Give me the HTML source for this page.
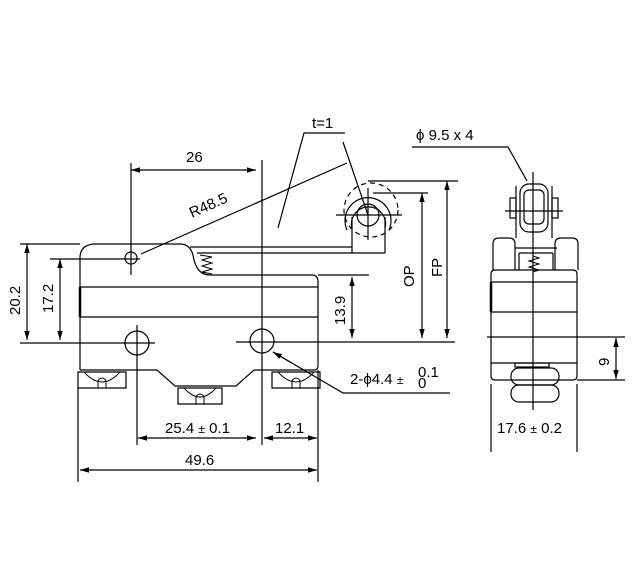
<!DOCTYPE html>
<html><head><meta charset="utf-8"><style>
html,body{margin:0;padding:0;background:#fff}
svg{display:block}
text{font-family:"Liberation Sans",sans-serif;font-size:15px;fill:#000}
</style></head><body>
<svg width="639" height="572" viewBox="0 0 639 572" xmlns="http://www.w3.org/2000/svg">
<defs>
<marker id="a" viewBox="0 0 10 10" refX="10" refY="5" markerWidth="9" markerHeight="9" markerUnits="userSpaceOnUse" orient="auto-start-reverse"><path d="M0,2 L10,5 L0,8 z" fill="#000"/></marker>
</defs>
<g fill="none" stroke="#000" stroke-width="1.2">
<path d="M80,370 L80,258 Q80,244 96,244 L180,244 Q190,244 193,255 Q196,275 210,275 L312,275 Q318,275 318,282 L318,366 Q318,370 314,370 L254,370 L236,386 L175,386 L157,370 L80,370"/>
<line x1="80" y1="287" x2="318" y2="287"/><line x1="80" y1="317" x2="318" y2="317"/>
<line x1="80" y1="287" x2="80" y2="317" stroke-width="2.5"/>
<line x1="190" y1="247" x2="352" y2="247"/><line x1="197" y1="253" x2="385" y2="253"/>
<path d="M352,253 L352,217 M385,253 L385,217"/>
<path d="M200,255 l12,2 l-10,3 l10,3 l-10,3 l10,3 l-10,3 l10,2" stroke-width="1"/>
<circle cx="368" cy="215" r="11"/>
<path d="M352,228 A17,17 0 1 1 385,228"/>
<path d="M347,230 A23,23 0 1 1 389,230"/>
<circle cx="371" cy="210" r="27" stroke-dasharray="5,4"/>
<line x1="336" y1="215" x2="402" y2="215"/><line x1="368" y1="188" x2="368" y2="240"/>
<circle cx="131" cy="258" r="6"/><circle cx="137" cy="343" r="12"/><circle cx="262" cy="341" r="12"/>
<path d="M78,372 h48 v16 h-48 z M178,388 h44 v16 h-44 z M272,372 h48 v16 h-48 z"/>
<path d="M84,372 Q102,392 120,372 M184,388 Q200,406 216,388 M278,372 Q296,392 314,372" stroke-width="1"/>
<path d="M98,388 v-6 a4,4 0 0 1 8,0 v6 M196,404 v-6 a4,4 0 0 1 8,0 v6 M292,388 v-6 a4,4 0 0 1 8,0 v6" stroke-width="1"/>
<line x1="131" y1="163" x2="131" y2="275"/><line x1="137" y1="325" x2="137" y2="445"/>
<line x1="262" y1="160" x2="262" y2="445"/><line x1="318" y1="370" x2="318" y2="482"/>
<line x1="78" y1="388" x2="78" y2="482"/>
<line x1="20" y1="244" x2="80" y2="244"/><line x1="20" y1="343" x2="155" y2="343"/>
<line x1="50" y1="259" x2="140" y2="259"/>
<line x1="236" y1="342" x2="455" y2="342"/>
<line x1="318" y1="275" x2="369" y2="275"/>
<line x1="368" y1="181" x2="458" y2="181"/><line x1="373" y1="193" x2="428" y2="193"/>
<line x1="131" y1="170" x2="256" y2="170" marker-start="url(#a)" marker-end="url(#a)"/>
<line x1="27" y1="244" x2="27" y2="340" marker-start="url(#a)" marker-end="url(#a)"/>
<line x1="60" y1="259" x2="60" y2="340" marker-start="url(#a)" marker-end="url(#a)"/>
<line x1="352" y1="277" x2="352" y2="338" marker-start="url(#a)" marker-end="url(#a)"/>
<line x1="422" y1="193" x2="422" y2="338" marker-start="url(#a)" marker-end="url(#a)"/>
<line x1="447" y1="181" x2="447" y2="338" marker-start="url(#a)" marker-end="url(#a)"/>
<line x1="138" y1="438" x2="256" y2="438" marker-start="url(#a)" marker-end="url(#a)"/>
<line x1="264" y1="438" x2="317" y2="438" marker-start="url(#a)" marker-end="url(#a)"/>
<line x1="80" y1="470" x2="317" y2="470" marker-start="url(#a)" marker-end="url(#a)"/>
<line x1="141" y1="254" x2="347" y2="163"/>
<path d="M345,133 L304,133 L278,228 M343,142 L368,215"/>
<path d="M412,147 L508,147 L527,181"/>
<path d="M450,393 L343,393 L273,352" /><line x1="290" y1="362" x2="273" y2="352" marker-end="url(#a)"/>
<path d="M491,274 Q491,270 495,270 L573,270 Q577,270 577,274 L577,376 Q577,380 573,380 L495,380 Q491,380 491,376 Z"/>
<line x1="491" y1="282" x2="577" y2="282"/><line x1="491" y1="312" x2="577" y2="312"/>
<line x1="491" y1="282" x2="491" y2="312" stroke-width="2.5"/>
<line x1="491" y1="363" x2="577" y2="363"/>
<rect x="515" y="363" width="34" height="4"/>
<rect x="511" y="368" width="48" height="17" rx="8"/><rect x="511" y="385" width="48" height="17" rx="8"/>
<path d="M493,270 L493,244 Q493,238 499,238 L509,238 Q515,238 515,244 L515,270 M555,270 L555,244 Q555,238 561,238 L572,238 Q578,238 578,244 L578,270"/>
<path d="M515,248 L557,248 M519,253 L553,253 M519,253 L519,270 M553,253 L553,270"/>
<path d="M533,256 l6,2 l-10,3 l10,3 l-10,3 l10,3 l-6,2" stroke-width="1"/>
<rect x="520" y="184" width="28" height="48" rx="9"/><rect x="524" y="190" width="20" height="34" rx="5"/>
<path d="M516,186 L516,238 M552,186 L552,238"/>
<rect x="510" y="198" width="6" height="20"/><rect x="552" y="198" width="6" height="20"/>
<line x1="505" y1="211" x2="563" y2="211"/>
<line x1="533" y1="172" x2="533" y2="410"/>
<line x1="487" y1="337" x2="625" y2="337"/><line x1="577" y1="380" x2="625" y2="380"/>
<line x1="616" y1="338" x2="616" y2="379" marker-start="url(#a)" marker-end="url(#a)"/>
<line x1="491" y1="384" x2="491" y2="452"/><line x1="577" y1="384" x2="577" y2="452"/>
</g>
<text x="186" y="162">26</text>
<text transform="translate(192,218) rotate(-24)">R48.5</text>
<text x="312" y="128">t=1</text>
<text x="416" y="140">ϕ 9.5 x 4</text>
<text transform="translate(414,287) rotate(-90)">OP</text>
<text transform="translate(442,277) rotate(-90)">FP</text>
<text transform="translate(345,325) rotate(-90)">13.9</text>
<text transform="translate(20,315) rotate(-90)">20.2</text>
<text transform="translate(53,313) rotate(-90)">17.2</text>
<text x="165" y="433">25.4 <tspan font-size="12">±</tspan> 0.1</text>
<text x="275" y="433">12.1</text>
<text x="185" y="465">49.6</text>
<text x="350" y="384" font-size="16">2-ϕ4.4 <tspan font-size="12">±</tspan></text>
<text x="418" y="377" font-size="11">0.1</text><text x="418" y="388" font-size="11">0</text>
<text transform="translate(609,366) rotate(-90)">9</text>
<text x="497" y="433">17.6 <tspan font-size="12">±</tspan> 0.2</text>
</svg>
</body></html>
